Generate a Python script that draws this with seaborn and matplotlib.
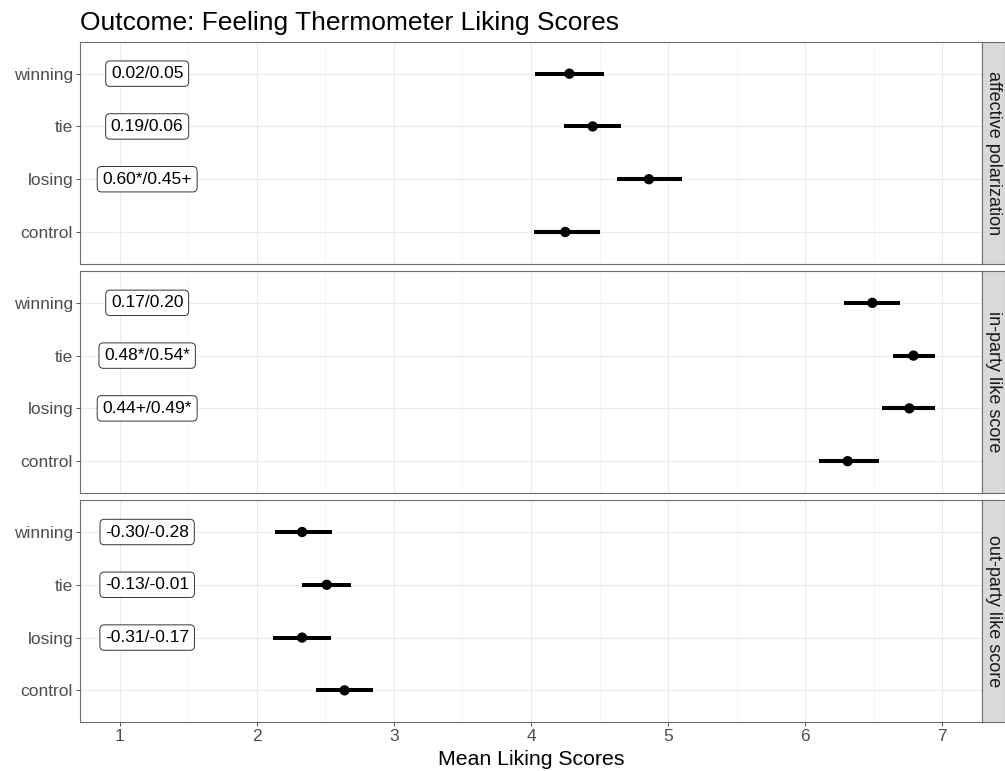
import pandas as pd
import matplotlib
matplotlib.use("Agg")
from matplotlib import pyplot as plt
from matplotlib.ticker import MultipleLocator
import seaborn as sns

conditions = ["winning", "tie", "losing", "control"]
outcomes = ["affective polarization", "in-party like score", "out-party like score"]

# means and 95% intervals
aff_mean = [4.28, 4.45, 4.86, 4.25]
aff_low = [4.03, 4.24, 4.63, 4.02]
aff_high = [4.53, 4.66, 5.10, 4.50]
aff_labels = ["0.02/0.05", "0.19/0.06", "0.60*/0.45+", ""]

in_mean = [6.49, 6.79, 6.76, 6.31]
in_low = [6.28, 6.64, 6.56, 6.10]
in_high = [6.69, 6.95, 6.95, 6.54]
in_labels = ["0.17/0.20", "0.48*/0.54*", "0.44+/0.49*", ""]

out_mean = [2.33, 2.51, 2.33, 2.64]
out_low = [2.13, 2.33, 2.12, 2.43]
out_high = [2.55, 2.69, 2.54, 2.85]
out_labels = ["-0.30/-0.28", "-0.13/-0.01", "-0.31/-0.17", ""]

label_x = 1.2

rows = []
for o, m, lo, hi, lab in zip(outcomes,
                             [aff_mean, in_mean, out_mean],
                             [aff_low, in_low, out_low],
                             [aff_high, in_high, out_high],
                             [aff_labels, in_labels, out_labels]):
    for i, c in enumerate(conditions):
        rows.append(dict(outcome=o, condition=c, pos=i, mean=m[i], low=lo[i], high=hi[i], label=lab[i]))
df = pd.DataFrame(rows)

sns.set_theme(style="white")
plt.rcParams["font.family"] = ["Liberation Sans", "DejaVu Sans"]

W, H = 1005, 771
fig, axes = plt.subplots(3, 1, figsize=(W / 100, H / 100), dpi=100, sharex=True)
fig.subplots_adjust(left=80 / W, right=982 / W, top=1 - 42 / H, bottom=1 - 722 / H, hspace=7.5 / 221)

for k, (ax, o) in enumerate(zip(axes, outcomes)):
    sub = df[df.outcome == o]
    ax.hlines(sub["pos"], sub["low"], sub["high"], color="black", lw=2.9, zorder=3)
    sns.scatterplot(data=sub, x="mean", y="pos", color="black", s=55, edgecolor="none",
                    ax=ax, zorder=4, legend=False)
    for _, r in sub.iterrows():
        if r["label"]:
            ax.text(label_x, r["pos"], r["label"], ha="center", va="center", fontsize=12.5,
                    color="black", zorder=5,
                    bbox=dict(boxstyle="round,pad=0.3,rounding_size=0.25", fc="white",
                              ec="#333333", lw=0.7))

    ax.set_xlim(0.71, 7.29)
    ax.set_ylim(3.6, -0.6)
    ax.set_yticks(range(len(conditions)))
    ax.set_yticklabels(conditions)
    ax.set_xticks(range(1, 8))
    ax.xaxis.set_minor_locator(MultipleLocator(0.5))
    ax.set_xlabel("")
    ax.set_ylabel("")
    ax.set_axisbelow(True)
    ax.grid(which="major", color="#EBEBEB", lw=0.8)
    ax.grid(which="minor", axis="x", color="#F2F2F2", lw=0.45)
    for s in ax.spines.values():
        s.set_color("#6E6E6E")
        s.set_linewidth(0.8)
    ax.tick_params(which="major", length=3, width=0.7, color="#555555",
                   labelcolor="#4D4D4D", labelsize=12.5, pad=2, left=True, bottom=(k == 2))
    ax.tick_params(which="minor", length=0)

    sax = ax.inset_axes([1, 0, 23 / 902, 1])
    sax.set_facecolor("#D9D9D9")
    sax.set_xticks([])
    sax.set_yticks([])
    for s in sax.spines.values():
        s.set_color("#6E6E6E")
        s.set_linewidth(0.8)
    sax.text(0.5, 0.5, o, rotation=-90, ha="center", va="center", fontsize=13,
             color="#1A1A1A", transform=sax.transAxes)

fig.text(80 / W, 1 - 30 / H, "Outcome: Feeling Thermometer Liking Scores",
         fontsize=19, ha="left", va="baseline", color="black")
fig.text(531 / W, 1 - 765 / H, "Mean Liking Scores", fontsize=15.3,
         ha="center", va="baseline", color="black")

fig.savefig("out.png", dpi=100)
